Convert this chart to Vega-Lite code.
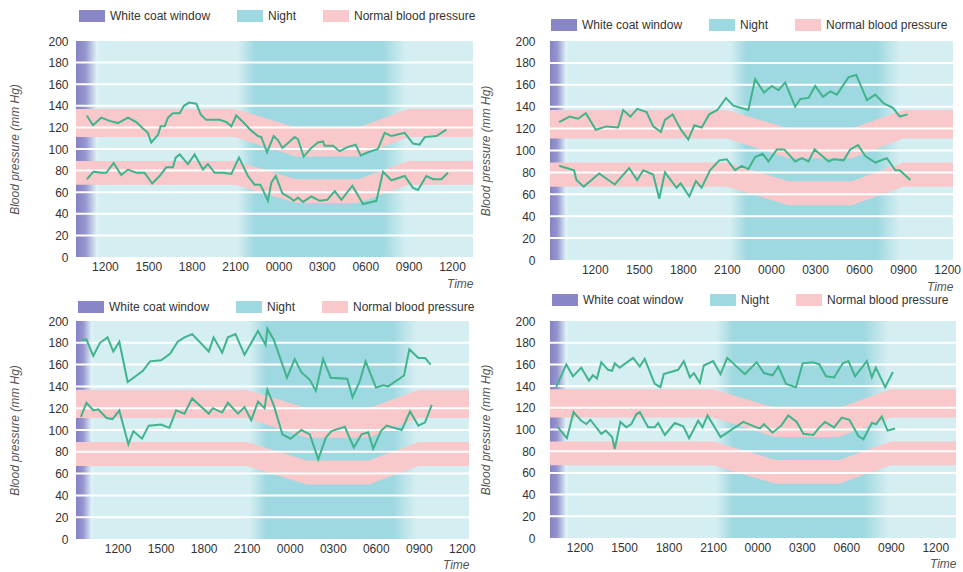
{
"$schema": "https://vega.github.io/schema/vega-lite/v6.json",
"background": "white",
"padding": {"left": 8, "top": 3, "right": 0, "bottom": 0},
"config": {
  "font": "Liberation Sans, Arial, sans-serif",
  "view": {"stroke": null, "fill": "#d5eef2"},
  "legend": {"orient": "none", "direction": "horizontal", "title": null, "symbolType": "M-1,-0.46H1V0.46H-1Z", "symbolSize": 676, "symbolStrokeWidth": 0, "symbolOpacity": 1, "labelFontSize": 12, "labelColor": "#333333", "labelOffset": 5, "columnPadding": 26, "padding": 0, "labelFont": "Liberation Sans, Arial, sans-serif"},
  "axis": {"labelFont": "Liberation Sans, Arial, sans-serif", "titleFont": "Liberation Sans, Arial, sans-serif", "labelFontSize": 12, "labelColor": "#333333", "titleFontSize": 12, "titleFontStyle": "italic", "titleFontWeight": "normal", "titleColor": "#555555", "domain": false, "ticks": false, "grid": false, "labelOverlap": false}
},
"datasets": {
  "night": [{"a": 21.2, "b": 32.8}],
  "grid": [{"v": 20}, {"v": 40}, {"v": 60}, {"v": 80}, {"v": 100}, {"v": 120}, {"v": 140}, {"v": 160}, {"v": 180}],
  "bands": [
    {"t": 0, "lo": 111, "hi": 137, "b": "sys", "k": "Normal blood pressure"},
    {"t": 21, "lo": 111, "hi": 137, "b": "sys", "k": "Normal blood pressure"},
    {"t": 25.2, "lo": 93, "hi": 120, "b": "sys", "k": "Normal blood pressure"},
    {"t": 29.5, "lo": 93, "hi": 120, "b": "sys", "k": "Normal blood pressure"},
    {"t": 33, "lo": 111, "hi": 137, "b": "sys", "k": "Normal blood pressure"},
    {"t": 48, "lo": 111, "hi": 137, "b": "sys", "k": "Normal blood pressure"},
    {"t": 0, "lo": 67, "hi": 89, "b": "dia", "k": "Normal blood pressure"},
    {"t": 21, "lo": 67, "hi": 89, "b": "dia", "k": "Normal blood pressure"},
    {"t": 25.2, "lo": 50, "hi": 72, "b": "dia", "k": "Normal blood pressure"},
    {"t": 29.5, "lo": 50, "hi": 72, "b": "dia", "k": "Normal blood pressure"},
    {"t": 33, "lo": 67, "hi": 89, "b": "dia", "k": "Normal blood pressure"},
    {"t": 48, "lo": 67, "hi": 89, "b": "dia", "k": "Normal blood pressure"}
  ],
  "p1": [
    {"t":10.75,"bp":131,"s":"S"},{"t":11.17,"bp":122,"s":"S"},{"t":11.75,"bp":129,"s":"S"},{"t":12.32,"bp":126,"s":"S"},{"t":12.9,"bp":124,"s":"S"},{"t":13.59,"bp":129,"s":"S"},{"t":14.17,"bp":125,"s":"S"},{"t":14.63,"bp":119,"s":"S"},{"t":14.97,"bp":115,"s":"S"},{"t":15.2,"bp":106,"s":"S"},{"t":15.67,"bp":113,"s":"S"},{"t":15.85,"bp":121,"s":"S"},{"t":16.13,"bp":121,"s":"S"},{"t":16.36,"bp":129,"s":"S"},{"t":16.7,"bp":133,"s":"S"},{"t":17.17,"bp":133,"s":"S"},{"t":17.46,"bp":140,"s":"S"},{"t":17.81,"bp":143,"s":"S"},{"t":18.32,"bp":142,"s":"S"},{"t":18.62,"bp":132,"s":"S"},{"t":19.0,"bp":127,"s":"S"},{"t":19.47,"bp":127,"s":"S"},{"t":19.93,"bp":127,"s":"S"},{"t":20.39,"bp":125,"s":"S"},{"t":20.74,"bp":121,"s":"S"},{"t":21.08,"bp":131,"s":"S"},{"t":21.55,"bp":125,"s":"S"},{"t":22.12,"bp":117,"s":"S"},{"t":22.58,"bp":112,"s":"S"},{"t":22.81,"bp":111,"s":"S"},{"t":23.21,"bp":97,"s":"S"},{"t":23.67,"bp":112,"s":"S"},{"t":23.97,"bp":108,"s":"S"},{"t":24.27,"bp":101,"s":"S"},{"t":24.78,"bp":107,"s":"S"},{"t":25.12,"bp":111,"s":"S"},{"t":25.35,"bp":109,"s":"S"},{"t":25.74,"bp":93,"s":"S"},{"t":26.27,"bp":101,"s":"S"},{"t":26.73,"bp":106,"s":"S"},{"t":27.08,"bp":107,"s":"S"},{"t":27.19,"bp":103,"s":"S"},{"t":27.77,"bp":103,"s":"S"},{"t":28.23,"bp":98,"s":"S"},{"t":28.81,"bp":102,"s":"S"},{"t":29.34,"bp":104,"s":"S"},{"t":29.68,"bp":94,"s":"S"},{"t":30.19,"bp":97,"s":"S"},{"t":30.88,"bp":100,"s":"S"},{"t":31.34,"bp":115,"s":"S"},{"t":31.81,"bp":112,"s":"S"},{"t":32.73,"bp":115,"s":"S"},{"t":33.3,"bp":105,"s":"S"},{"t":33.76,"bp":104,"s":"S"},{"t":34.11,"bp":111,"s":"S"},{"t":34.92,"bp":112,"s":"S"},{"t":35.61,"bp":118,"s":"S"},
    {"t":10.75,"bp":72,"s":"D"},{"t":11.22,"bp":79,"s":"D"},{"t":11.75,"bp":78,"s":"D"},{"t":12.09,"bp":78,"s":"D"},{"t":12.6,"bp":87,"s":"D"},{"t":13.13,"bp":76,"s":"D"},{"t":13.59,"bp":81,"s":"D"},{"t":14.17,"bp":78,"s":"D"},{"t":14.74,"bp":78,"s":"D"},{"t":15.27,"bp":68,"s":"D"},{"t":15.78,"bp":75,"s":"D"},{"t":16.24,"bp":83,"s":"D"},{"t":16.7,"bp":83,"s":"D"},{"t":16.89,"bp":92,"s":"D"},{"t":17.17,"bp":95,"s":"D"},{"t":17.74,"bp":86,"s":"D"},{"t":18.2,"bp":95,"s":"D"},{"t":18.78,"bp":81,"s":"D"},{"t":19.12,"bp":86,"s":"D"},{"t":19.59,"bp":78,"s":"D"},{"t":20.16,"bp":78,"s":"D"},{"t":20.74,"bp":77,"s":"D"},{"t":21.27,"bp":92,"s":"D"},{"t":21.89,"bp":75,"s":"D"},{"t":22.35,"bp":67,"s":"D"},{"t":22.74,"bp":67,"s":"D"},{"t":22.93,"bp":62,"s":"D"},{"t":23.27,"bp":52,"s":"D"},{"t":23.51,"bp":69,"s":"D"},{"t":23.81,"bp":75,"s":"D"},{"t":24.27,"bp":59,"s":"D"},{"t":24.78,"bp":55,"s":"D"},{"t":25.05,"bp":52,"s":"D"},{"t":25.35,"bp":55,"s":"D"},{"t":25.7,"bp":51,"s":"D"},{"t":26.27,"bp":56,"s":"D"},{"t":26.85,"bp":52,"s":"D"},{"t":27.38,"bp":53,"s":"D"},{"t":27.89,"bp":61,"s":"D"},{"t":28.35,"bp":53,"s":"D"},{"t":29.11,"bp":66,"s":"D"},{"t":29.85,"bp":49,"s":"D"},{"t":30.77,"bp":52,"s":"D"},{"t":31.23,"bp":79,"s":"D"},{"t":31.81,"bp":71,"s":"D"},{"t":32.73,"bp":75,"s":"D"},{"t":33.3,"bp":64,"s":"D"},{"t":33.65,"bp":62,"s":"D"},{"t":34.22,"bp":75,"s":"D"},{"t":34.69,"bp":72,"s":"D"},{"t":35.26,"bp":72,"s":"D"},{"t":35.72,"bp":78,"s":"D"}
  ],
  "p2": [
    {"t":9.57,"bp":126,"s":"S"},{"t":10.29,"bp":131,"s":"S"},{"t":10.86,"bp":129,"s":"S"},{"t":11.39,"bp":134,"s":"S"},{"t":12.07,"bp":119,"s":"S"},{"t":12.8,"bp":122,"s":"S"},{"t":13.59,"bp":121,"s":"S"},{"t":13.93,"bp":137,"s":"S"},{"t":14.43,"bp":131,"s":"S"},{"t":14.89,"bp":138,"s":"S"},{"t":15.53,"bp":135,"s":"S"},{"t":15.98,"bp":122,"s":"S"},{"t":16.5,"bp":117,"s":"S"},{"t":16.78,"bp":128,"s":"S"},{"t":17.3,"bp":133,"s":"S"},{"t":17.87,"bp":119,"s":"S"},{"t":18.37,"bp":110,"s":"S"},{"t":18.78,"bp":123,"s":"S"},{"t":19.28,"bp":121,"s":"S"},{"t":19.8,"bp":133,"s":"S"},{"t":20.35,"bp":137,"s":"S"},{"t":20.94,"bp":148,"s":"S"},{"t":21.44,"bp":141,"s":"S"},{"t":22.46,"bp":137,"s":"S"},{"t":22.92,"bp":165,"s":"S"},{"t":23.53,"bp":153,"s":"S"},{"t":24.06,"bp":159,"s":"S"},{"t":24.51,"bp":155,"s":"S"},{"t":24.97,"bp":162,"s":"S"},{"t":25.65,"bp":140,"s":"S"},{"t":26.0,"bp":147,"s":"S"},{"t":26.56,"bp":148,"s":"S"},{"t":27.01,"bp":159,"s":"S"},{"t":27.54,"bp":149,"s":"S"},{"t":28.04,"bp":154,"s":"S"},{"t":28.49,"bp":151,"s":"S"},{"t":29.29,"bp":167,"s":"S"},{"t":29.81,"bp":169,"s":"S"},{"t":30.54,"bp":146,"s":"S"},{"t":31.11,"bp":151,"s":"S"},{"t":31.68,"bp":143,"s":"S"},{"t":32.31,"bp":139,"s":"S"},{"t":32.77,"bp":131,"s":"S"},{"t":33.31,"bp":133,"s":"S"},
    {"t":9.57,"bp":86,"s":"D"},{"t":10.59,"bp":82,"s":"D"},{"t":10.75,"bp":73,"s":"D"},{"t":11.25,"bp":67,"s":"D"},{"t":12.3,"bp":79,"s":"D"},{"t":13.36,"bp":69,"s":"D"},{"t":14.34,"bp":84,"s":"D"},{"t":14.89,"bp":73,"s":"D"},{"t":15.3,"bp":82,"s":"D"},{"t":15.98,"bp":78,"s":"D"},{"t":16.39,"bp":56,"s":"D"},{"t":16.78,"bp":80,"s":"D"},{"t":17.57,"bp":66,"s":"D"},{"t":17.85,"bp":70,"s":"D"},{"t":18.44,"bp":58,"s":"D"},{"t":18.89,"bp":72,"s":"D"},{"t":19.28,"bp":66,"s":"D"},{"t":19.85,"bp":82,"s":"D"},{"t":20.48,"bp":91,"s":"D"},{"t":20.99,"bp":92,"s":"D"},{"t":21.55,"bp":82,"s":"D"},{"t":22.01,"bp":86,"s":"D"},{"t":22.46,"bp":83,"s":"D"},{"t":22.92,"bp":94,"s":"D"},{"t":23.44,"bp":97,"s":"D"},{"t":23.83,"bp":90,"s":"D"},{"t":24.4,"bp":101,"s":"D"},{"t":24.9,"bp":101,"s":"D"},{"t":25.65,"bp":90,"s":"D"},{"t":26.11,"bp":93,"s":"D"},{"t":26.56,"bp":90,"s":"D"},{"t":26.97,"bp":101,"s":"D"},{"t":27.92,"bp":90,"s":"D"},{"t":28.27,"bp":92,"s":"D"},{"t":28.95,"bp":91,"s":"D"},{"t":29.4,"bp":101,"s":"D"},{"t":29.93,"bp":105,"s":"D"},{"t":30.43,"bp":95,"s":"D"},{"t":31.11,"bp":89,"s":"D"},{"t":31.9,"bp":93,"s":"D"},{"t":32.47,"bp":82,"s":"D"},{"t":32.77,"bp":82,"s":"D"},{"t":33.5,"bp":73,"s":"D"}
  ],
  "p3": [
    {"t":9.51,"bp":183,"s":"S"},{"t":9.83,"bp":183,"s":"S"},{"t":10.3,"bp":168,"s":"S"},{"t":10.77,"bp":180,"s":"S"},{"t":11.3,"bp":185,"s":"S"},{"t":11.7,"bp":172,"s":"S"},{"t":12.12,"bp":181,"s":"S"},{"t":12.7,"bp":144,"s":"S"},{"t":13.75,"bp":154,"s":"S"},{"t":14.26,"bp":163,"s":"S"},{"t":15.03,"bp":164,"s":"S"},{"t":15.66,"bp":170,"s":"S"},{"t":16.19,"bp":181,"s":"S"},{"t":16.66,"bp":185,"s":"S"},{"t":17.2,"bp":188,"s":"S"},{"t":18.36,"bp":172,"s":"S"},{"t":18.69,"bp":185,"s":"S"},{"t":19.29,"bp":171,"s":"S"},{"t":19.69,"bp":185,"s":"S"},{"t":20.22,"bp":188,"s":"S"},{"t":20.85,"bp":169,"s":"S"},{"t":21.79,"bp":191,"s":"S"},{"t":22.32,"bp":178,"s":"S"},{"t":22.44,"bp":193,"s":"S"},{"t":22.88,"bp":183,"s":"S"},{"t":23.81,"bp":148,"s":"S"},{"t":24.35,"bp":165,"s":"S"},{"t":24.81,"bp":153,"s":"S"},{"t":25.4,"bp":146,"s":"S"},{"t":25.82,"bp":136,"s":"S"},{"t":26.33,"bp":165,"s":"S"},{"t":26.86,"bp":148,"s":"S"},{"t":28.01,"bp":147,"s":"S"},{"t":28.38,"bp":130,"s":"S"},{"t":28.89,"bp":145,"s":"S"},{"t":29.29,"bp":163,"s":"S"},{"t":30.01,"bp":139,"s":"S"},{"t":30.52,"bp":141,"s":"S"},{"t":30.87,"bp":140,"s":"S"},{"t":31.97,"bp":150,"s":"S"},{"t":32.34,"bp":174,"s":"S"},{"t":32.97,"bp":166,"s":"S"},{"t":33.44,"bp":166,"s":"S"},{"t":33.83,"bp":160,"s":"S"},
    {"t":9.44,"bp":112,"s":"D"},{"t":9.83,"bp":125,"s":"D"},{"t":10.32,"bp":118,"s":"D"},{"t":10.65,"bp":119,"s":"D"},{"t":11.23,"bp":111,"s":"D"},{"t":11.65,"bp":110,"s":"D"},{"t":12.12,"bp":118,"s":"D"},{"t":12.75,"bp":87,"s":"D"},{"t":13.1,"bp":99,"s":"D"},{"t":13.7,"bp":92,"s":"D"},{"t":14.17,"bp":104,"s":"D"},{"t":15.03,"bp":105,"s":"D"},{"t":15.61,"bp":102,"s":"D"},{"t":16.08,"bp":118,"s":"D"},{"t":16.66,"bp":115,"s":"D"},{"t":17.2,"bp":129,"s":"D"},{"t":18.36,"bp":115,"s":"D"},{"t":18.64,"bp":120,"s":"D"},{"t":19.29,"bp":116,"s":"D"},{"t":19.69,"bp":125,"s":"D"},{"t":20.39,"bp":115,"s":"D"},{"t":20.85,"bp":121,"s":"D"},{"t":21.32,"bp":109,"s":"D"},{"t":21.79,"bp":126,"s":"D"},{"t":22.25,"bp":120,"s":"D"},{"t":22.44,"bp":137,"s":"D"},{"t":22.88,"bp":123,"s":"D"},{"t":23.49,"bp":96,"s":"D"},{"t":24.05,"bp":92,"s":"D"},{"t":24.81,"bp":100,"s":"D"},{"t":25.4,"bp":96,"s":"D"},{"t":25.99,"bp":73,"s":"D"},{"t":26.52,"bp":93,"s":"D"},{"t":26.91,"bp":99,"s":"D"},{"t":27.84,"bp":103,"s":"D"},{"t":28.47,"bp":84,"s":"D"},{"t":29.01,"bp":96,"s":"D"},{"t":29.47,"bp":98,"s":"D"},{"t":29.82,"bp":83,"s":"D"},{"t":30.36,"bp":99,"s":"D"},{"t":30.76,"bp":104,"s":"D"},{"t":31.81,"bp":100,"s":"D"},{"t":32.39,"bp":117,"s":"D"},{"t":32.97,"bp":104,"s":"D"},{"t":33.44,"bp":107,"s":"D"},{"t":33.9,"bp":123,"s":"D"}
  ],
  "p4": [
    {"t":10.42,"bp":139,"s":"S"},{"t":11.1,"bp":160,"s":"S"},{"t":11.55,"bp":149,"s":"S"},{"t":12.11,"bp":157,"s":"S"},{"t":12.63,"bp":145,"s":"S"},{"t":12.9,"bp":150,"s":"S"},{"t":13.17,"bp":147,"s":"S"},{"t":13.46,"bp":162,"s":"S"},{"t":13.92,"bp":155,"s":"S"},{"t":14.19,"bp":154,"s":"S"},{"t":14.37,"bp":161,"s":"S"},{"t":14.7,"bp":157,"s":"S"},{"t":15.61,"bp":166,"s":"S"},{"t":16.06,"bp":158,"s":"S"},{"t":16.39,"bp":165,"s":"S"},{"t":17.07,"bp":142,"s":"S"},{"t":17.45,"bp":139,"s":"S"},{"t":17.68,"bp":151,"s":"S"},{"t":18.65,"bp":155,"s":"S"},{"t":19.03,"bp":163,"s":"S"},{"t":19.44,"bp":148,"s":"S"},{"t":19.71,"bp":152,"s":"S"},{"t":20.11,"bp":143,"s":"S"},{"t":20.38,"bp":159,"s":"S"},{"t":21.01,"bp":163,"s":"S"},{"t":21.51,"bp":151,"s":"S"},{"t":21.96,"bp":166,"s":"S"},{"t":23.15,"bp":151,"s":"S"},{"t":23.94,"bp":162,"s":"S"},{"t":24.44,"bp":152,"s":"S"},{"t":25.02,"bp":150,"s":"S"},{"t":25.41,"bp":158,"s":"S"},{"t":25.93,"bp":142,"s":"S"},{"t":26.6,"bp":139,"s":"S"},{"t":27.05,"bp":161,"s":"S"},{"t":27.73,"bp":162,"s":"S"},{"t":28.18,"bp":160,"s":"S"},{"t":28.63,"bp":149,"s":"S"},{"t":29.17,"bp":148,"s":"S"},{"t":29.76,"bp":161,"s":"S"},{"t":30.14,"bp":163,"s":"S"},{"t":30.59,"bp":149,"s":"S"},{"t":31.38,"bp":163,"s":"S"},{"t":31.72,"bp":148,"s":"S"},{"t":31.99,"bp":157,"s":"S"},{"t":32.62,"bp":139,"s":"S"},{"t":33.14,"bp":153,"s":"S"},
    {"t":10.54,"bp":102,"s":"D"},{"t":11.14,"bp":92,"s":"D"},{"t":11.59,"bp":116,"s":"D"},{"t":12.11,"bp":108,"s":"D"},{"t":12.45,"bp":105,"s":"D"},{"t":12.72,"bp":109,"s":"D"},{"t":13.46,"bp":96,"s":"D"},{"t":13.76,"bp":99,"s":"D"},{"t":14.19,"bp":93,"s":"D"},{"t":14.37,"bp":82,"s":"D"},{"t":14.75,"bp":107,"s":"D"},{"t":15.15,"bp":102,"s":"D"},{"t":15.49,"bp":105,"s":"D"},{"t":15.83,"bp":114,"s":"D"},{"t":16.06,"bp":116,"s":"D"},{"t":16.62,"bp":102,"s":"D"},{"t":17.07,"bp":102,"s":"D"},{"t":17.3,"bp":106,"s":"D"},{"t":17.75,"bp":95,"s":"D"},{"t":18.42,"bp":106,"s":"D"},{"t":18.99,"bp":103,"s":"D"},{"t":19.39,"bp":92,"s":"D"},{"t":20.0,"bp":108,"s":"D"},{"t":20.29,"bp":102,"s":"D"},{"t":20.63,"bp":113,"s":"D"},{"t":21.51,"bp":93,"s":"D"},{"t":23.04,"bp":107,"s":"D"},{"t":23.94,"bp":102,"s":"D"},{"t":24.17,"bp":101,"s":"D"},{"t":24.44,"bp":105,"s":"D"},{"t":25.02,"bp":97,"s":"D"},{"t":25.63,"bp":104,"s":"D"},{"t":26.08,"bp":113,"s":"D"},{"t":26.65,"bp":107,"s":"D"},{"t":27.1,"bp":96,"s":"D"},{"t":27.77,"bp":95,"s":"D"},{"t":28.18,"bp":102,"s":"D"},{"t":28.56,"bp":107,"s":"D"},{"t":29.17,"bp":102,"s":"D"},{"t":29.69,"bp":111,"s":"D"},{"t":30.21,"bp":109,"s":"D"},{"t":30.81,"bp":94,"s":"D"},{"t":31.15,"bp":91,"s":"D"},{"t":31.72,"bp":106,"s":"D"},{"t":32.01,"bp":105,"s":"D"},{"t":32.39,"bp":112,"s":"D"},{"t":32.78,"bp":99,"s":"D"},{"t":33.29,"bp":101,"s":"D"}
  ]
},
"columns": 2,
"spacing": {"row": -5, "column": 3},
"resolve": {"scale": {"color": "independent"}, "legend": {"color": "independent"}},
"concat": [
  {
    "width": 397, "height": 216,
    "layer": [
      {"data": {"name": "night"}, "mark": {"type": "rect", "clip": true, "fill": {"gradient": "linear", "x1": 0, "y1": 0, "x2": 1, "y2": 0, "stops": [{"offset": 0, "color": "#d5eef2"}, {"offset": 0.1, "color": "#9ed8e0"}, {"offset": 0.86, "color": "#9ed8e0"}, {"offset": 1, "color": "#d5eef2"}]}},
       "encoding": {"x": {"field": "a", "type": "quantitative", "scale": {"domain": [10, 37.45], "nice": false, "zero": false}}, "x2": {"field": "b"}, "y": {"datum": 200, "type": "quantitative", "scale": {"domain": [0, 200], "nice": false}}, "y2": {"datum": 0}}},
      {"data": {"values": [{"a": 10, "b": 11.65}]}, "mark": {"type": "rect", "clip": true, "fill": {"gradient": "linear", "x1": 0, "y1": 0, "x2": 1, "y2": 0, "stops": [{"offset": 0, "color": "#8482c3"}, {"offset": 0.4, "color": "#9896cf"}, {"offset": 0.7, "color": "#c3d0e8"}, {"offset": 0.88, "color": "#e0f3f7"}, {"offset": 1, "color": "#d5eef2"}]}},
       "encoding": {"x": {"field": "a", "type": "quantitative", "scale": {"domain": [10, 37.45], "nice": false, "zero": false}}, "x2": {"field": "b"}, "y": {"datum": 200, "type": "quantitative", "scale": {"domain": [0, 200], "nice": false}}, "y2": {"datum": 0}}},
      {"data": {"name": "bands"}, "mark": {"type": "area", "clip": true, "opacity": 1},
       "encoding": {"x": {"field": "t", "type": "quantitative", "scale": {"domain": [10, 37.45], "nice": false, "zero": false}}, "y": {"field": "lo", "type": "quantitative", "scale": {"domain": [0, 200], "nice": false}}, "y2": {"field": "hi"}, "detail": {"field": "b"},
         "color": {"field": "k", "type": "nominal", "scale": {"domain": ["White coat window", "Night", "Normal blood pressure"], "range": ["#8886c6", "#9ed8e0", "#f8c8ca"]}, "legend": {"legendX": 3, "legendY": -38}}}},
      {"data": {"name": "grid"}, "mark": {"type": "rule", "color": "white", "strokeWidth": 2},
       "encoding": {"y": {"field": "v", "type": "quantitative", "scale": {"domain": [0, 200], "nice": false}}}},
      {"data": {"name": "p1"}, "mark": {"type": "line", "color": "#40b48c", "strokeWidth": 2},
       "encoding": {"x": {"field": "t", "type": "quantitative", "scale": {"domain": [10, 37.45], "nice": false, "zero": false},
           "axis": {"values": [12, 15, 18, 21, 24, 27, 30, 33, 36], "tickCount": 20, "labelExpr": "(datum.value % 24 < 10 ? '0' : '') + (datum.value % 24) + '00'", "labelPadding": 4, "labelOverlap": false, "title": "Time", "titleAnchor": "end", "titlePadding": 6}},
         "y": {"field": "bp", "type": "quantitative", "scale": {"domain": [0, 200], "nice": false}, "axis": {"values": [0, 20, 40, 60, 80, 100, 120, 140, 160, 180, 200], "tickCount": 20, "labelOverlap": false, "labelPadding": 8, "title": "Blood pressure (mm Hg)", "titlePadding": 26}},
         "detail": {"field": "s"}}}
    ]
  },
  {
    "width": 403, "height": 219,
    "layer": [
      {"data": {"name": "night"}, "mark": {"type": "rect", "clip": true, "fill": {"gradient": "linear", "x1": 0, "y1": 0, "x2": 1, "y2": 0, "stops": [{"offset": 0, "color": "#d5eef2"}, {"offset": 0.1, "color": "#9ed8e0"}, {"offset": 0.86, "color": "#9ed8e0"}, {"offset": 1, "color": "#d5eef2"}]}},
       "encoding": {"x": {"field": "a", "type": "quantitative", "scale": {"domain": [8.95, 36.4], "nice": false, "zero": false}}, "x2": {"field": "b"}, "y": {"datum": 200, "type": "quantitative", "scale": {"domain": [0, 200], "nice": false}}, "y2": {"datum": 0}}},
      {"data": {"values": [{"a": 8.95, "b": 10.2}]}, "mark": {"type": "rect", "clip": true, "fill": {"gradient": "linear", "x1": 0, "y1": 0, "x2": 1, "y2": 0, "stops": [{"offset": 0, "color": "#8482c3"}, {"offset": 0.4, "color": "#9896cf"}, {"offset": 0.7, "color": "#c3d0e8"}, {"offset": 0.88, "color": "#e0f3f7"}, {"offset": 1, "color": "#d5eef2"}]}},
       "encoding": {"x": {"field": "a", "type": "quantitative", "scale": {"domain": [8.95, 36.4], "nice": false, "zero": false}}, "x2": {"field": "b"}, "y": {"datum": 200, "type": "quantitative", "scale": {"domain": [0, 200], "nice": false}}, "y2": {"datum": 0}}},
      {"data": {"name": "bands"}, "mark": {"type": "area", "clip": true, "opacity": 1},
       "encoding": {"x": {"field": "t", "type": "quantitative", "scale": {"domain": [8.95, 36.4], "nice": false, "zero": false}}, "y": {"field": "lo", "type": "quantitative", "scale": {"domain": [0, 200], "nice": false}}, "y2": {"field": "hi"}, "detail": {"field": "b"},
         "color": {"field": "k", "type": "nominal", "scale": {"domain": ["White coat window", "Night", "Normal blood pressure"], "range": ["#8886c6", "#9ed8e0", "#f8c8ca"]}, "legend": {"legendX": 1, "legendY": -29}}}},
      {"data": {"name": "grid"}, "mark": {"type": "rule", "color": "white", "strokeWidth": 2},
       "encoding": {"y": {"field": "v", "type": "quantitative", "scale": {"domain": [0, 200], "nice": false}}}},
      {"data": {"name": "p2"}, "mark": {"type": "line", "color": "#40b48c", "strokeWidth": 2},
       "encoding": {"x": {"field": "t", "type": "quantitative", "scale": {"domain": [8.95, 36.4], "nice": false, "zero": false},
           "axis": {"values": [12, 15, 18, 21, 24, 27, 30, 33, 36], "tickCount": 20, "labelExpr": "(datum.value % 24 < 10 ? '0' : '') + (datum.value % 24) + '00'", "labelPadding": 4, "labelOverlap": false, "title": "Time", "titleAnchor": "end", "titlePadding": 6}},
         "y": {"field": "bp", "type": "quantitative", "scale": {"domain": [0, 200], "nice": false}, "axis": {"values": [0, 20, 40, 60, 80, 100, 120, 140, 160, 180, 200], "tickCount": 20, "labelOverlap": false, "labelPadding": 15, "title": "Blood pressure (mm Hg)", "titlePadding": 22}},
         "detail": {"field": "s"}}}
    ]
  },
  {
    "width": 393, "height": 218,
    "layer": [
      {"data": {"name": "night"}, "mark": {"type": "rect", "clip": true, "fill": {"gradient": "linear", "x1": 0, "y1": 0, "x2": 1, "y2": 0, "stops": [{"offset": 0, "color": "#d5eef2"}, {"offset": 0.1, "color": "#9ed8e0"}, {"offset": 0.86, "color": "#9ed8e0"}, {"offset": 1, "color": "#d5eef2"}]}},
       "encoding": {"x": {"field": "a", "type": "quantitative", "scale": {"domain": [9.1, 36.5], "nice": false, "zero": false}}, "x2": {"field": "b"}, "y": {"datum": 200, "type": "quantitative", "scale": {"domain": [0, 200], "nice": false}}, "y2": {"datum": 0}}},
      {"data": {"values": [{"a": 9.1, "b": 10.35}]}, "mark": {"type": "rect", "clip": true, "fill": {"gradient": "linear", "x1": 0, "y1": 0, "x2": 1, "y2": 0, "stops": [{"offset": 0, "color": "#8482c3"}, {"offset": 0.4, "color": "#9896cf"}, {"offset": 0.7, "color": "#c3d0e8"}, {"offset": 0.88, "color": "#e0f3f7"}, {"offset": 1, "color": "#d5eef2"}]}},
       "encoding": {"x": {"field": "a", "type": "quantitative", "scale": {"domain": [9.1, 36.5], "nice": false, "zero": false}}, "x2": {"field": "b"}, "y": {"datum": 200, "type": "quantitative", "scale": {"domain": [0, 200], "nice": false}}, "y2": {"datum": 0}}},
      {"data": {"name": "bands"}, "mark": {"type": "area", "clip": true, "opacity": 1},
       "encoding": {"x": {"field": "t", "type": "quantitative", "scale": {"domain": [9.1, 36.5], "nice": false, "zero": false}}, "y": {"field": "lo", "type": "quantitative", "scale": {"domain": [0, 200], "nice": false}}, "y2": {"field": "hi"}, "detail": {"field": "b"},
         "color": {"field": "k", "type": "nominal", "scale": {"domain": ["White coat window", "Night", "Normal blood pressure"], "range": ["#8886c6", "#9ed8e0", "#f8c8ca"]}, "legend": {"legendX": 2, "legendY": -27}}}},
      {"data": {"name": "grid"}, "mark": {"type": "rule", "color": "white", "strokeWidth": 2},
       "encoding": {"y": {"field": "v", "type": "quantitative", "scale": {"domain": [0, 200], "nice": false}}}},
      {"data": {"name": "p3"}, "mark": {"type": "line", "color": "#40b48c", "strokeWidth": 2},
       "encoding": {"x": {"field": "t", "type": "quantitative", "scale": {"domain": [9.1, 36.5], "nice": false, "zero": false},
           "axis": {"values": [12, 15, 18, 21, 24, 27, 30, 33, 36], "tickCount": 20, "labelExpr": "(datum.value % 24 < 10 ? '0' : '') + (datum.value % 24) + '00'", "labelPadding": 4, "labelOverlap": false, "title": "Time", "titleAnchor": "end", "titlePadding": 5}},
         "y": {"field": "bp", "type": "quantitative", "scale": {"domain": [0, 200], "nice": false}, "axis": {"values": [0, 20, 40, 60, 80, 100, 120, 140, 160, 180, 200], "tickCount": 20, "labelOverlap": false, "labelPadding": 8, "title": "Blood pressure (mm Hg)", "titlePadding": 26}},
         "detail": {"field": "s"}}}
    ]
  },
  {
    "width": 406, "height": 217,
    "layer": [
      {"data": {"name": "night"}, "mark": {"type": "rect", "clip": true, "fill": {"gradient": "linear", "x1": 0, "y1": 0, "x2": 1, "y2": 0, "stops": [{"offset": 0, "color": "#d5eef2"}, {"offset": 0.1, "color": "#9ed8e0"}, {"offset": 0.86, "color": "#9ed8e0"}, {"offset": 1, "color": "#d5eef2"}]}},
       "encoding": {"x": {"field": "a", "type": "quantitative", "scale": {"domain": [10, 37.4], "nice": false, "zero": false}}, "x2": {"field": "b"}, "y": {"datum": 200, "type": "quantitative", "scale": {"domain": [0, 200], "nice": false}}, "y2": {"datum": 0}}},
      {"data": {"values": [{"a": 10, "b": 11.25}]}, "mark": {"type": "rect", "clip": true, "fill": {"gradient": "linear", "x1": 0, "y1": 0, "x2": 1, "y2": 0, "stops": [{"offset": 0, "color": "#8482c3"}, {"offset": 0.4, "color": "#9896cf"}, {"offset": 0.7, "color": "#c3d0e8"}, {"offset": 0.88, "color": "#e0f3f7"}, {"offset": 1, "color": "#d5eef2"}]}},
       "encoding": {"x": {"field": "a", "type": "quantitative", "scale": {"domain": [10, 37.4], "nice": false, "zero": false}}, "x2": {"field": "b"}, "y": {"datum": 200, "type": "quantitative", "scale": {"domain": [0, 200], "nice": false}}, "y2": {"datum": 0}}},
      {"data": {"name": "bands"}, "mark": {"type": "area", "clip": true, "opacity": 1},
       "encoding": {"x": {"field": "t", "type": "quantitative", "scale": {"domain": [10, 37.4], "nice": false, "zero": false}}, "y": {"field": "lo", "type": "quantitative", "scale": {"domain": [0, 200], "nice": false}}, "y2": {"field": "hi"}, "detail": {"field": "b"},
         "color": {"field": "k", "type": "nominal", "scale": {"domain": ["White coat window", "Night", "Normal blood pressure"], "range": ["#8886c6", "#9ed8e0", "#f8c8ca"]}, "legend": {"legendX": 2, "legendY": -34}}}},
      {"data": {"name": "grid"}, "mark": {"type": "rule", "color": "white", "strokeWidth": 2},
       "encoding": {"y": {"field": "v", "type": "quantitative", "scale": {"domain": [0, 200], "nice": false}}}},
      {"data": {"name": "p4"}, "mark": {"type": "line", "color": "#40b48c", "strokeWidth": 2},
       "encoding": {"x": {"field": "t", "type": "quantitative", "scale": {"domain": [10, 37.4], "nice": false, "zero": false},
           "axis": {"values": [12, 15, 18, 21, 24, 27, 30, 33, 36], "tickCount": 20, "labelExpr": "(datum.value % 24 < 10 ? '0' : '') + (datum.value % 24) + '00'", "labelPadding": 4, "labelOverlap": false, "title": "Time", "titleAnchor": "end", "titlePadding": 5}},
         "y": {"field": "bp", "type": "quantitative", "scale": {"domain": [0, 200], "nice": false}, "axis": {"values": [0, 20, 40, 60, 80, 100, 120, 140, 160, 180, 200], "tickCount": 20, "labelOverlap": false, "labelPadding": 15, "title": "Blood pressure (mm Hg)", "titlePadding": 22}},
         "detail": {"field": "s"}}}
    ]
  }
]
}
